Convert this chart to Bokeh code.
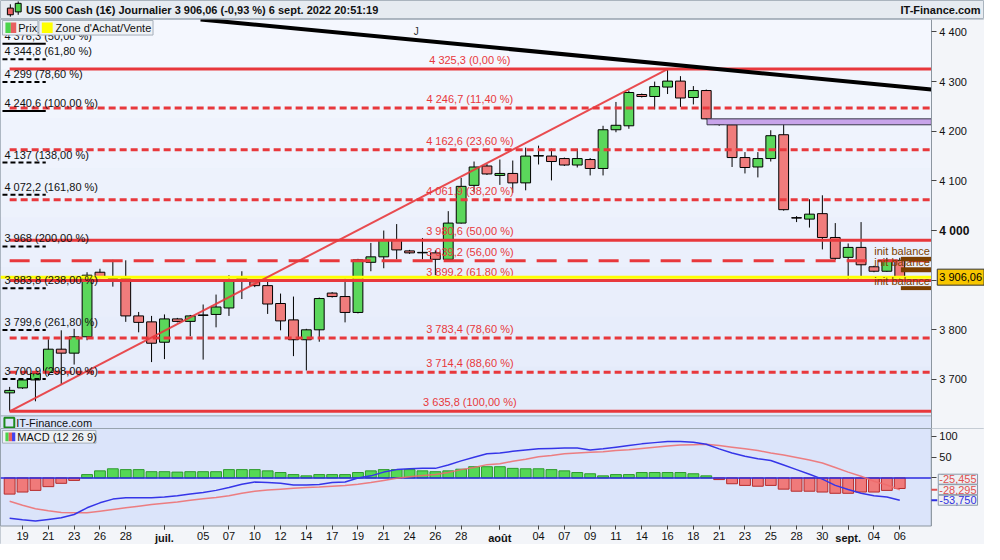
from bokeh.plotting import figure
from bokeh.models import Range1d, FixedTicker, Label, LinearAxis
from bokeh.layouts import column
from bokeh.embed import file_html
from bokeh.resources import INLINE
from bokeh.core.properties import value

# daily bars of the US 500 cash CFD (the short Sunday sessions are bars too)
dates = ["2022-06-17", "2022-06-19", "2022-06-20", "2022-06-21", "2022-06-22", "2022-06-23",
         "2022-06-24", "2022-06-26", "2022-06-27", "2022-06-28", "2022-06-29", "2022-06-30",
         "2022-07-01", "2022-07-03", "2022-07-04", "2022-07-05", "2022-07-06", "2022-07-07",
         "2022-07-08", "2022-07-10", "2022-07-11", "2022-07-12", "2022-07-13", "2022-07-14",
         "2022-07-15", "2022-07-17", "2022-07-18", "2022-07-19", "2022-07-20", "2022-07-21",
         "2022-07-22", "2022-07-24", "2022-07-25", "2022-07-26", "2022-07-27", "2022-07-28",
         "2022-07-29", "2022-07-31", "2022-08-01", "2022-08-02", "2022-08-03", "2022-08-04",
         "2022-08-05", "2022-08-07", "2022-08-08", "2022-08-09", "2022-08-10", "2022-08-11",
         "2022-08-12", "2022-08-14", "2022-08-15", "2022-08-16", "2022-08-17", "2022-08-18",
         "2022-08-19", "2022-08-21", "2022-08-22", "2022-08-23", "2022-08-24", "2022-08-25",
         "2022-08-26", "2022-08-28", "2022-08-29", "2022-08-30", "2022-08-31", "2022-09-01",
         "2022-09-02", "2022-09-04", "2022-09-05", "2022-09-06"]

opens = [3673, 3683, 3699, 3714, 3761, 3753, 3786, 3916, 3904, 3903,
         3828, 3816, 3775, 3822, 3817, 3829, 3831, 3844, 3904, 3897,
         3889, 3853, 3820, 3780, 3800, 3874, 3867, 3835, 3936, 3947,
         3980, 3959, 3955, 3955, 3942, 4015, 4091, 4130, 4111, 4115,
         4096, 4150, 4150, 4145, 4132, 4143, 4125, 4203, 4211, 4274,
         4270, 4289, 4301, 4268, 4282, 4215, 4213, 4147, 4128, 4145,
         4193, 4026, 4023, 4034, 3986, 3946, 3966, 3927, 3918, 3940]
highs = [3685, 3702, 3717, 3781, 3799, 3802, 3916, 3923, 3941, 3940,
         3836, 3828, 3831, 3824, 3830, 3851, 3871, 3910, 3918, 3899,
         3897, 3873, 3867, 3802, 3865, 3876, 3903, 3943, 3975, 4000,
         4013, 3961, 3985, 3960, 4039, 4106, 4139, 4134, 4143, 4141,
         4167, 4171, 4165, 4147, 4165, 4146, 4211, 4259, 4282, 4276,
         4300, 4325.3, 4311, 4291, 4284, 4220, 4218, 4158, 4158, 4202,
         4215, 4029, 4063, 4071, 4015, 3974, 4017, 3929, 3945, 3945]
lows = [3635.8, 3681, 3656, 3707, 3691, 3730, 3779, 3904, 3887, 3816,
        3795, 3735, 3741, 3815, 3787, 3740, 3805, 3828, 3862, 3886,
        3832, 3799, 3747, 3718, 3776, 3865, 3815, 3833, 3918, 3924,
        3942, 3953, 3942, 3910, 3941, 4014, 4077, 4112, 4092, 4076,
        4081, 4133, 4101, 4130, 4127, 4111, 4111, 4198, 4205, 4268,
        4244, 4275, 4249, 4254, 4224, 4211, 4128, 4115, 4107, 4139,
        4040, 4017, 4006, 3962, 3941, 3902, 3904, 3916, 3917, 3900]
closes = [3678, 3699, 3712, 3761, 3753, 3786, 3910, 3906, 3904, 3828,
          3815, 3773, 3822, 3817, 3828, 3830, 3846, 3900, 3899, 3889,
          3852, 3818, 3780, 3800, 3863, 3867, 3835, 3941, 3947, 3981,
          3961, 3955, 3956, 3942, 4015, 4089, 4128, 4114, 4115, 4096,
          4150, 4151, 4139, 4132, 4145, 4125, 4203, 4212, 4278, 4270,
          4290, 4301, 4267, 4282, 4225, 4214, 4147, 4127, 4145, 4191,
          4042, 4025, 4033, 3986, 3944, 3966, 3931, 3918, 3940, 3906.06]

# MACD (12 26 9)
macd = [-97, -101, -104, -100, -96, -88, -72, -60, -51, -48,
        -48, -48, -46, -43, -39, -35, -30, -23, -15, -10,
        -11, -13, -17, -17, -16, -11, -10, 0, 5, 14,
        20, 22, 23, 23, 31, 41, 50, 58, 60, 64,
        67, 70, 71, 72, 72, 67, 70, 74, 78, 82,
        85, 88, 88, 86, 81, 70, 60, 52, 46, 42,
        31, 20, 9, -3, -18, -28, -37, -43, -46, -53.75]
signal = [-56, -66, -74, -79, -83, -84, -84, -80, -76, -72,
          -68, -64, -61, -58, -54, -50, -47, -43, -37, -32,
          -29, -27, -25, -23, -22, -20, -18, -15, -11, -6,
          -1, 3, 6, 8, 13, 20, 25, 32, 34, 40,
          45, 51, 54, 58, 60, 62, 63, 66, 68, 71,
          74, 77, 79, 80, 81, 78, 74, 70, 66, 60,
          55, 49, 43, 36, 25, 14, 4, -8, -17, -28.295]
hist = [-39, -34, -30, -21, -13, -6, 8, 17, 22, 20,
        20, 15, 15, 14, 15, 15, 15, 20, 20, 20,
        17, 13, 8, 5, 8, 8, 8, 13, 17, 20,
        20, 20, 17, 15, 17, 21, 27, 27, 27, 23,
        22, 22, 20, 17, 13, 10, 5, 8, 8, 13,
        13, 13, 13, 10, 5, -4, -14, -18, -20, -18,
        -27, -32, -32, -34, -37, -37, -34, -34, -30, -25.455]

# Fibonacci retracement of the 3 635,8 -> 4 325,3 rally
fib_levels = [4325.3, 4246.7, 4162.6, 4061.9, 3980.6, 3939.2, 3899.2, 3783.4, 3714.4, 3635.8]
fib_pcts = ["0,00", "11,40", "23,60", "38,20", "50,00", "56,00", "61,80", "78,60", "88,60", "100,00"]

# projection levels written on the left edge
ext_levels = [4376.3, 4344.8, 4299.0, 4240.6, 4137.0, 4072.2, 3968.0, 3883.8, 3799.6, 3700.9]
ext_text = ["4 376,3 (50,00 %)", "4 344,8 (61,80 %)", "4 299 (78,60 %)", "4 240,6 (100,00 %)",
            "4 137 (138,00 %)", "4 072,2 (161,80 %)", "3 968 (200,00 %)", "3 883,8 (238,00 %)",
            "3 799,6 (261,80 %)", "3 700,9 (298,00 %)"]

# long black resistance line
res_x = [14.8, 71.45]
res_y = [4425.3, 4284.2]

# resistance zone and init balance zones
zone_lo, zone_hi = 4213, 4225
ib_lo = [3938, 3916, 3880]
ib_hi = [3947, 3926, 3888]

last_price = 3906.06

price_ticks = [3700, 3800, 3900, 4000, 4100, 4200, 4300, 4400]
price_tick_labels = ["3 700", "3 800", "3 900", "4 000", "4 100", "4 200", "4 300", "4 400"]
macd_ticks = [0, 50, 100]
macd_tick_labels = ["0", "50", "100"]

tick_idx = [1, 3, 5, 7, 9, 12, 15, 17, 19, 21, 23, 25, 27, 29, 31, 33, 35,
            38, 41, 43, 45, 47, 49, 51, 53, 55, 57, 59, 61, 63, 65, 67, 69]
tick_labels = ["19", "21", "23", "26", "28", "juil.", "05", "07", "10", "12", "14", "17", "19",
               "21", "24", "26", "28", "août", "04", "07", "09", "11", "14", "16", "18", "21",
               "23", "25", "28", "30", "sept.", "04", "06"]
month_names = ["juil.", "août", "sept."]

title_text = "US 500 Cash (1€) Journalier 3 906,06 (-0,93 %) 6 sept. 2022 20:51:19"

FONT = "Liberation Sans"
RED = "#e8383c"
GREEN_BODY = "#5bd75b"
RED_BODY = "#f07c7c"
SIDE = "#f3f5f9"
MACD_BG = "#dbe4fa"
FRAME = "#97a3af"


# helpers to place decorations where they sit on the original screenshot
def rx(px):
    return (px - 9.3) / 13.11


def ry(py):
    return 4325.3 - (py - 71) * 1.957


def rm(py):
    return (491.7 - py) / 0.426


def fr(v):
    return f"{v:,.1f}".replace(",", " ").replace(".", ",")


idx = list(range(len(dates)))
AX = rx(946)          # where the price scale sits
XR = Range1d(rx(0), rx(1000))


def style_axis(ax):
    ax.major_label_text_font = FONT
    ax.major_label_text_font_size = "11px"
    ax.major_label_text_color = "#111111"
    ax.major_tick_line_color = "#444444"
    ax.major_tick_in = 0
    ax.minor_tick_line_color = None


# ---------- title bar ----------
t = figure(width=984, height=19, x_range=Range1d(0, 1000), y_range=Range1d(20, 0),
           x_axis_location=None, y_axis_location=None, min_border=0,
           background_fill_color="#e6ebf1", border_fill_color="#e6ebf1",
           outline_line_color="#aab4be", toolbar_location=None, output_backend="svg")
t.grid.visible = False
t.segment([10, 18], [4, 1], [10, 18], [17, 15], line_color="black", line_width=1)
t.quad(left=[7], right=[13], top=[8], bottom=[15], fill_color="#e86060", line_color="black")
t.quad(left=[15], right=[21], top=[3], bottom=[12], fill_color="#4cd44c", line_color="black")
t.text(x=[26], y=[10.5], text=[title_text], text_font=value(FONT), text_font_size="11px",
       text_font_style="bold", text_baseline="middle", text_color="#111111")
t.text(x=[996], y=[10.5], text=["IT-Finance.com"], text_font=value(FONT), text_font_size="11px",
       text_font_style="bold", text_baseline="middle", text_align="right", text_color="#111111")

# ---------- price panel ----------
p = figure(width=984, height=409, x_range=XR, y_range=Range1d(ry(441), ry(20)),
           x_axis_location=None, y_axis_location="right", output_backend="svg", toolbar_location=None,
           min_border=0, background_fill_color="#ebf0fb", border_fill_color=SIDE,
           outline_line_color=FRAME)
p.grid.visible = False
pax = p.yaxis[0]
pax.fixed_location = AX
pax.ticker = FixedTicker(ticks=price_ticks)
pax.major_label_overrides = {k: ("" if k == 4000 else s) for k, s in zip(price_ticks, price_tick_labels)}
style_axis(pax)
pax.axis_line_color = "#8c96a0"
pax.major_tick_out = 5
pax.major_label_standoff = 3
# the round 4 000 is written in bold
bax = LinearAxis(ticker=FixedTicker(ticks=[4000]), fixed_location=AX,
                 major_label_overrides={4000: price_tick_labels[price_ticks.index(4000)]})
style_axis(bax)
bax.major_label_text_font_style = "bold"
bax.major_label_text_font_size = "12px"
bax.axis_line_color = None
bax.major_tick_out = 5
bax.major_label_standoff = 3
p.add_layout(bax, "right")

# soft vertical shading of the chart background
shade = ["#f4f7fe", "#f1f5fd", "#eff3fd", "#edf2fc", "#ebf0fc", "#e9eefb", "#e7edfb", "#e4ebfa"]
band = (ry(20) - ry(428)) / len(shade)
p.quad(left=[rx(0)] * len(shade), right=[AX] * len(shade),
       top=[ry(20) - i * band for i in range(len(shade))],
       bottom=[ry(20) - (i + 1) * band for i in range(len(shade))],
       fill_color=shade, line_color=None, level="underlay")
p.quad(left=[rx(0)], right=[AX], top=[ry(428)], bottom=[ry(442)], fill_color=MACD_BG,
       line_color=None, level="underlay")

# candles
body_top = [max(o, c) for o, c in zip(opens, closes)]
body_bot = [min(o, c) for o, c in zip(opens, closes)]
body_col = [GREEN_BODY if c >= o else RED_BODY for o, c in zip(opens, closes)]
p.segment(idx, lows, idx, highs, line_color="black", line_width=1)
p.vbar(x=idx, top=body_top, bottom=body_bot, width=0.76, fill_color=body_col,
       line_color="black", line_width=1)

# fibonacci lines and labels
for lvl, pc in zip(fib_levels, fib_pcts):
    if pc in ("0,00", "50,00", "61,80", "100,00"):
        dash = "solid"
    elif pc == "56,00":
        dash = "20 11"
    else:
        dash = "7 4"
    p.segment([0], [lvl], [AX], [lvl], line_color=RED, line_width=3, line_dash=dash)
fib_text = [f"{fr(v)} ({pc} %)" for v, pc in zip(fib_levels, fib_pcts)]
p.text(x=[rx(477)] * len(fib_levels), y=fib_levels, text=fib_text, text_font=value(FONT),
       text_font_size="11px", text_color=RED, text_align="center", text_baseline="bottom",
       y_offset=-3)

# current price line
p.segment([rx(0)], [last_price], [AX], [last_price], line_color="#ffff00", line_width=3)

# rally trend line, bottom of the first bar to the top
p.line([0, 51], [lows[0], highs[51]], line_color=RED, line_width=2, line_alpha=0.9)

# long resistance line
p.line(res_x, res_y, line_color="black", line_width=4)
p.text(x=[rx(420)], y=[ry(38)], text=["J"], text_font=value(FONT), text_font_size="10px",
       text_color="#333333", text_baseline="bottom")

# resistance zone
p.quad(left=[rx(718)], right=[AX], bottom=[zone_lo], top=[zone_hi],
       fill_color="#c8a4ea", line_color="#3a3a4a", line_width=1)

# init balance zones
p.quad(left=[rx(915)] * 3, right=[AX] * 3, bottom=ib_lo, top=ib_hi,
       fill_color="#7b3f00", line_color=None)
p.text(x=[rx(888)] * 3, y=[ry(258), ry(270), ry(289)], text=["init balance"] * 3,
       text_font=value(FONT), text_font_size="11px", text_color="#7b3f00", text_baseline="middle")

# projection labels on the left
for lvl, txt in zip(ext_levels, ext_text):
    dash = "solid" if txt.startswith(("4 376", "4 240")) else "5 3"
    p.segment([rx(2)], [lvl], [rx(46)], [lvl], line_color="black", line_width=2, line_dash=dash)
p.text(x=[rx(4)] * len(ext_levels), y=ext_levels, text=ext_text, text_font=value(FONT),
       text_font_size="11px", text_color="#111111", text_baseline="bottom", y_offset=-2)

# separator and watermark
p.segment([rx(0)], [ry(428)], [AX], [ry(428)], line_color="#9aa6b2", line_width=1)
p.quad(left=[rx(4)], right=[rx(14)], bottom=[ry(440)], top=[ry(430)], fill_color=None,
       line_color="#1c8a1c", line_width=2)
p.text(x=[rx(16)], y=[ry(435)], text=["IT-Finance.com"], text_font=value(FONT),
       text_font_size="11px", text_color="#111111", text_baseline="middle")

# legend boxes
p.quad(left=[rx(2), rx(39)], right=[rx(38), rx(155)], bottom=[ry(36)] * 2, top=[ry(21)] * 2,
       fill_color="#eef1f5", line_color="#a5afba", line_width=1)
p.quad(left=[rx(5), rx(10.5), rx(42)], right=[rx(10.5), rx(16), rx(53)],
       bottom=[ry(34)] * 3, top=[ry(23)] * 3,
       fill_color=["#4cd44c", "#e86060", "#ffff00"], line_color=None)
p.text(x=[rx(18), rx(56)], y=[ry(28.5)] * 2, text=["Prix", "Zone d'Achat/Vente"],
       text_font=value(FONT), text_font_size="11px", text_color="#111111", text_baseline="middle")

# light strip behind the price scale
p.quad(left=[AX], right=[rx(1002)], bottom=[ry(445)], top=[ry(15)], fill_color=SIDE, line_color=None)

p.add_layout(Label(x=rx(952), y=last_price, text="3 906,06", text_font=FONT, text_font_size="11px",
                   text_color="black", text_baseline="middle", background_fill_color="#f7c600",
                   border_line_color="#333333", padding=2))

# ---------- MACD panel ----------
m = figure(width=984, height=116, x_range=XR, y_range=Range1d(rm(560), rm(441)),
           y_axis_location="right", output_backend="svg", toolbar_location=None,
           min_border=0, background_fill_color=MACD_BG, border_fill_color=SIDE,
           outline_line_color=FRAME)
m.grid.visible = False
may = m.yaxis[0]
may.fixed_location = AX
may.ticker = FixedTicker(ticks=macd_ticks)
may.major_label_overrides = dict(zip(macd_ticks, macd_tick_labels))
style_axis(may)
may.axis_line_color = None
may.major_tick_out = 5
may.major_label_standoff = 3

max_ = m.xaxis[0]
max_.fixed_location = rm(541)
max_.ticker = FixedTicker(ticks=tick_idx)
max_.major_label_overrides = {k: ("" if s in month_names else s) for k, s in zip(tick_idx, tick_labels)}
style_axis(max_)
max_.axis_line_color = None
max_.major_tick_out = 4
max_.major_label_standoff = 2
# month names in bold
mon = LinearAxis(ticker=FixedTicker(ticks=[k for k, s in zip(tick_idx, tick_labels) if s in month_names]),
                 fixed_location=rm(541),
                 major_label_overrides={k: s for k, s in zip(tick_idx, tick_labels) if s in month_names})
style_axis(mon)
mon.major_label_text_font_style = "bold"
mon.axis_line_color = None
mon.major_tick_out = 4
mon.major_label_standoff = 2
m.add_layout(mon, "below")

hist_fill = ["#55d855" if h >= 0 else "#f07a7a" for h in hist]
hist_line = ["#2e9a2e" if h >= 0 else "#b52c2c" for h in hist]
m.vbar(x=idx, top=hist, bottom=0, width=0.84, fill_color=hist_fill, line_color=hist_line)
m.segment([rx(0)], [0], [AX], [0], line_color="#2a2ae0", line_width=1.5)
m.line(idx, signal, line_color="#ef6b6b", line_width=1.5, line_alpha=0.85)
m.line(idx, macd, line_color="#3535e8", line_width=1.5)

m.quad(left=[rx(2)], right=[rx(97)], bottom=[rm(456)], top=[rm(443)],
       fill_color="#eef1f5", line_color="#a5afba", line_width=1)
m.quad(left=[rx(5), rx(8.3), rx(11.7)], right=[rx(8.3), rx(11.7), rx(15)],
       bottom=[rm(454)] * 3, top=[rm(445)] * 3,
       fill_color=["#4cd44c", "#e86060", "#4444ee"], line_color=None)
m.text(x=[rx(17)], y=[rm(449.5)], text=["MACD (12 26 9)"], text_font=value(FONT),
       text_font_size="11px", text_color="#111111", text_baseline="middle")

# side strip, date strip and the panel borders
m.quad(left=[AX, rx(-5)], right=[rx(1002), rx(1002)], bottom=[rm(562), rm(562)],
       top=[rm(437), rm(541)], fill_color=SIDE, line_color=None)
m.segment([AX, rx(0)], [rm(441), rm(541)], [AX, AX], [rm(541), rm(541)],
          line_color="#8c96a0", line_width=1.2)
m.segment([AX, AX], [signal[-1], macd[-1]], [rx(952), rx(952)], [signal[-1], macd[-1]],
          line_color=["#e05050", "#3030e0"], line_width=2)

for yy, txt, col in [(rm(493), "-25,455", "#e05050"), (signal[-1], "-28,295", "#e05050"),
                     (macd[-1], "-53,750", "#3030e0")]:
    m.add_layout(Label(x=rx(953), y=yy, text=txt, text_font=FONT, text_font_size="11px",
                       text_color=col, text_baseline="middle", background_fill_color="#eef0f4",
                       border_line_color="#8a98a8", padding=1))

open("out.html", "w").write(file_html(column(t, p, m), INLINE))
